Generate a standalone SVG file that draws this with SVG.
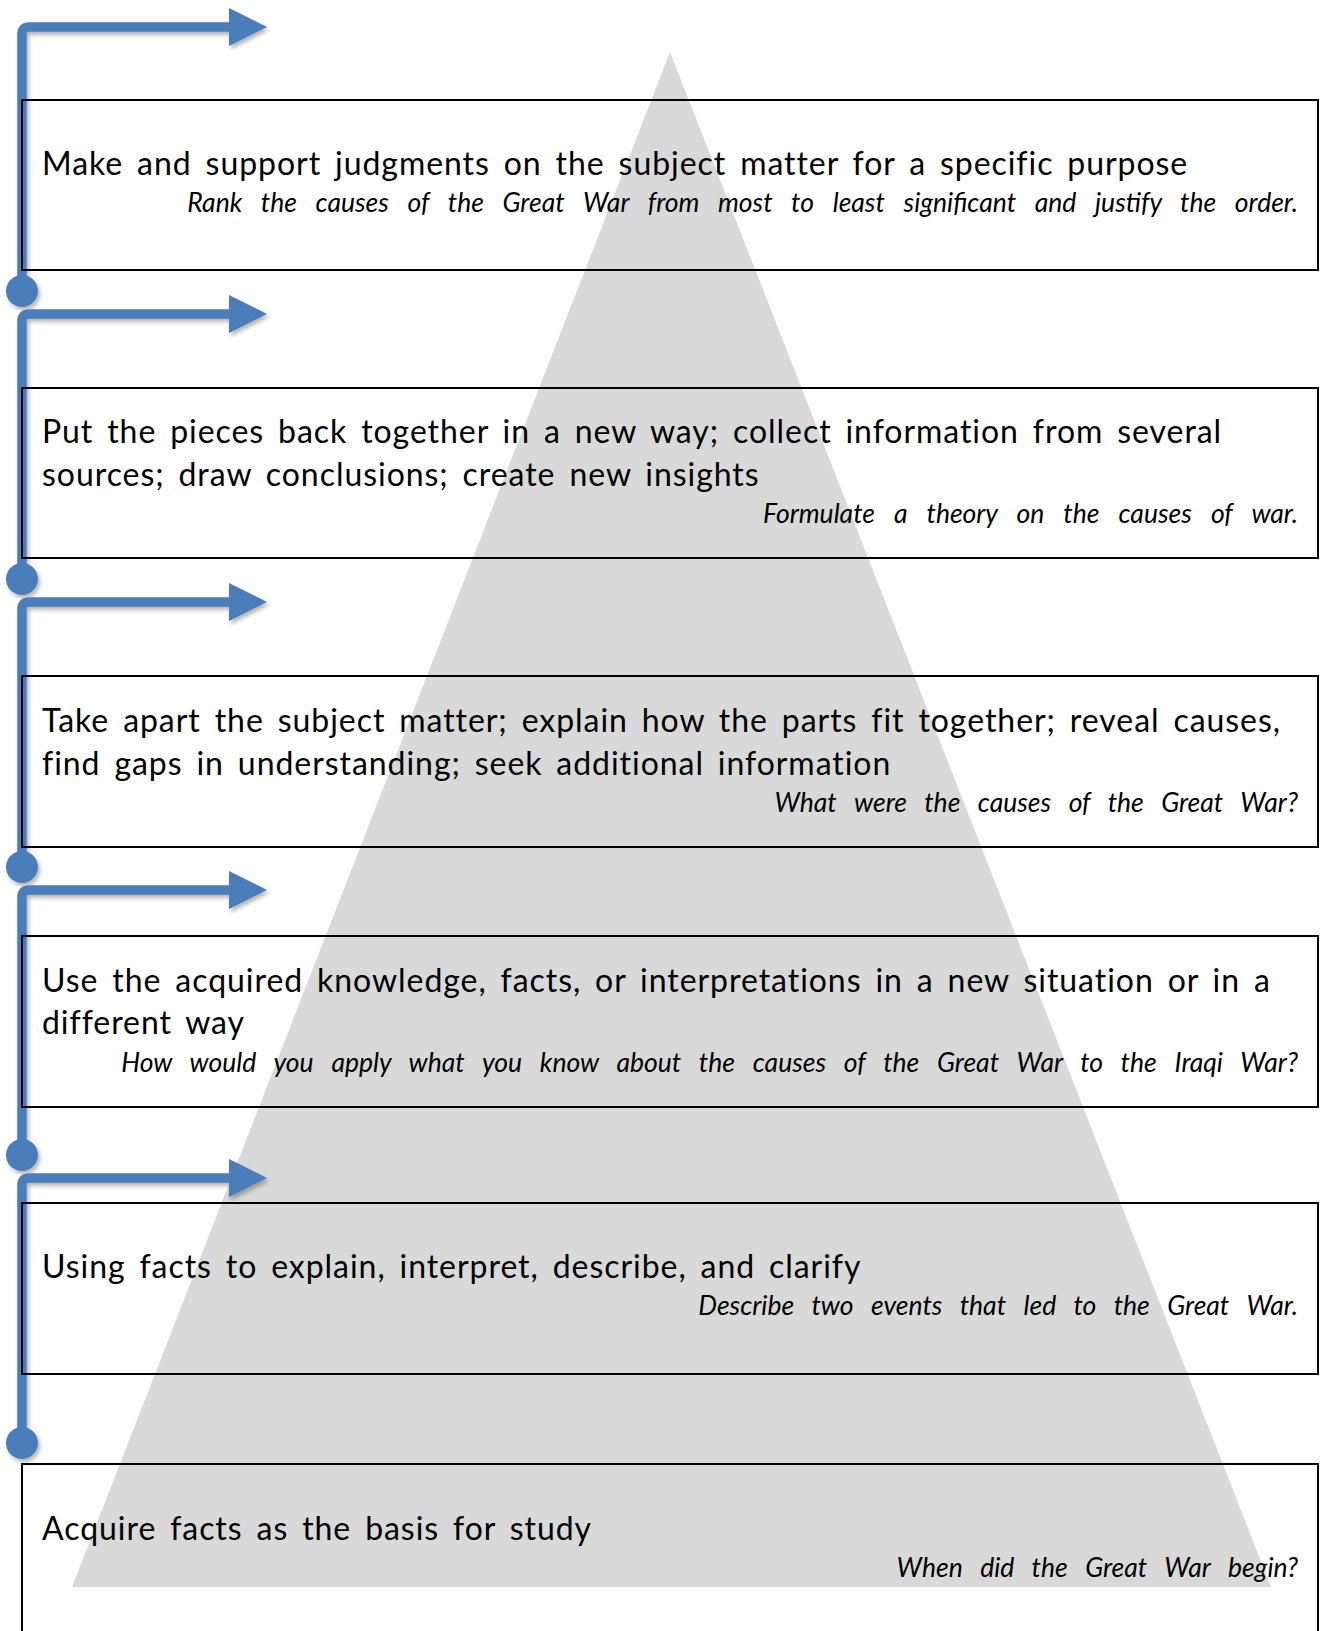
<svg xmlns="http://www.w3.org/2000/svg" width="1324" height="1631" viewBox="0 0 1324 1631">
<style>
.box{fill:none;stroke:#000;stroke-width:2}
.main{font-family:Lato,"Open Sans",sans-serif;font-size:32px;fill:#000;letter-spacing:0.95px;word-spacing:4.8px}
.sub{font-family:Lato,"Open Sans",sans-serif;font-size:26.5px;font-style:italic;fill:#000;word-spacing:11.3px;text-anchor:end}
.ln{fill:none;stroke:#4A7EBB;stroke-width:9.5;stroke-linejoin:round}
.hd{fill:#4A7EBB}
</style>
<defs>
<filter id="sh" x="-20%" y="-20%" width="140%" height="140%">
<feDropShadow dx="2" dy="3" stdDeviation="2" flood-color="#000" flood-opacity="0.3"/>
</filter>
</defs>
<polygon id="pyramid" points="670,52 1271,1587 72,1587" fill="#D9D9D9"/>
<g id="connectors" filter="url(#sh)">
<path class="ln" d="M22,1443 V1185 Q22,1178 29,1178 H232"/>
<polygon class="hd" points="229,1159 267,1178 229,1197"/>
<circle class="hd" cx="22" cy="1443" r="16"/>
<path class="ln" d="M22,1155 V897 Q22,890 29,890 H232"/>
<polygon class="hd" points="229,871 267,890 229,909"/>
<circle class="hd" cx="22" cy="1155" r="16"/>
<path class="ln" d="M22,867 V609 Q22,602 29,602 H232"/>
<polygon class="hd" points="229,583 267,602 229,621"/>
<circle class="hd" cx="22" cy="867" r="16"/>
<path class="ln" d="M22,579 V321 Q22,314 29,314 H232"/>
<polygon class="hd" points="229,295 267,314 229,333"/>
<circle class="hd" cx="22" cy="579" r="16"/>
<path class="ln" d="M22,291 V34 Q22,27 29,27 H232"/>
<polygon class="hd" points="229,8 267,27 229,46"/>
<circle class="hd" cx="22" cy="291" r="16"/>
</g>
<g id="level6">
<rect class="box" x="22" y="1464" width="1296" height="180"/>
<text class="main" x="42" y="1540">Acquire facts as the basis for study</text>
<text class="sub" x="1298" y="1577">When did the Great War begin?</text>
</g>
<g id="level5">
<rect class="box" x="22" y="1203" width="1296" height="171"/>
<text class="main" x="42" y="1278">Using facts to explain, interpret, describe, and clarify</text>
<text class="sub" x="1298" y="1315">Describe two events that led to the Great War.</text>
</g>
<g id="level4">
<rect class="box" x="22" y="936" width="1296" height="171"/>
<text class="main" x="42" y="992">Use the acquired knowledge, facts, or interpretations in a new situation or in a</text>
<text class="main" x="42" y="1034">different way</text>
<text class="sub" x="1298" y="1072" style="word-spacing:11.6px">How would you apply what you know about the causes of the Great War to the Iraqi War?</text>
</g>
<g id="level3">
<rect class="box" x="22" y="676" width="1296" height="171"/>
<text class="main" x="42" y="732">Take apart the subject matter; explain how the parts fit together; reveal causes,</text>
<text class="main" x="42" y="775">find gaps in understanding; seek additional information</text>
<text class="sub" x="1298" y="812">What were the causes of the Great War?</text>
</g>
<g id="level2">
<rect class="box" x="22" y="388" width="1296" height="170"/>
<text class="main" x="42" y="443">Put the pieces back together in a new way; collect information from several</text>
<text class="main" x="42" y="486">sources; draw conclusions; create new insights</text>
<text class="sub" x="1298" y="523" style="word-spacing:12.9px">Formulate a theory on the causes of war.</text>
</g>
<g id="level1">
<rect class="box" x="22" y="100" width="1296" height="170"/>
<text class="main" x="42" y="175">Make and support judgments on the subject matter for a specific purpose</text>
<text class="sub" x="1298" y="212" style="word-spacing:12.5px">Rank the causes of the Great War from most to least significant and justify the order.</text>
</g>
</svg>
